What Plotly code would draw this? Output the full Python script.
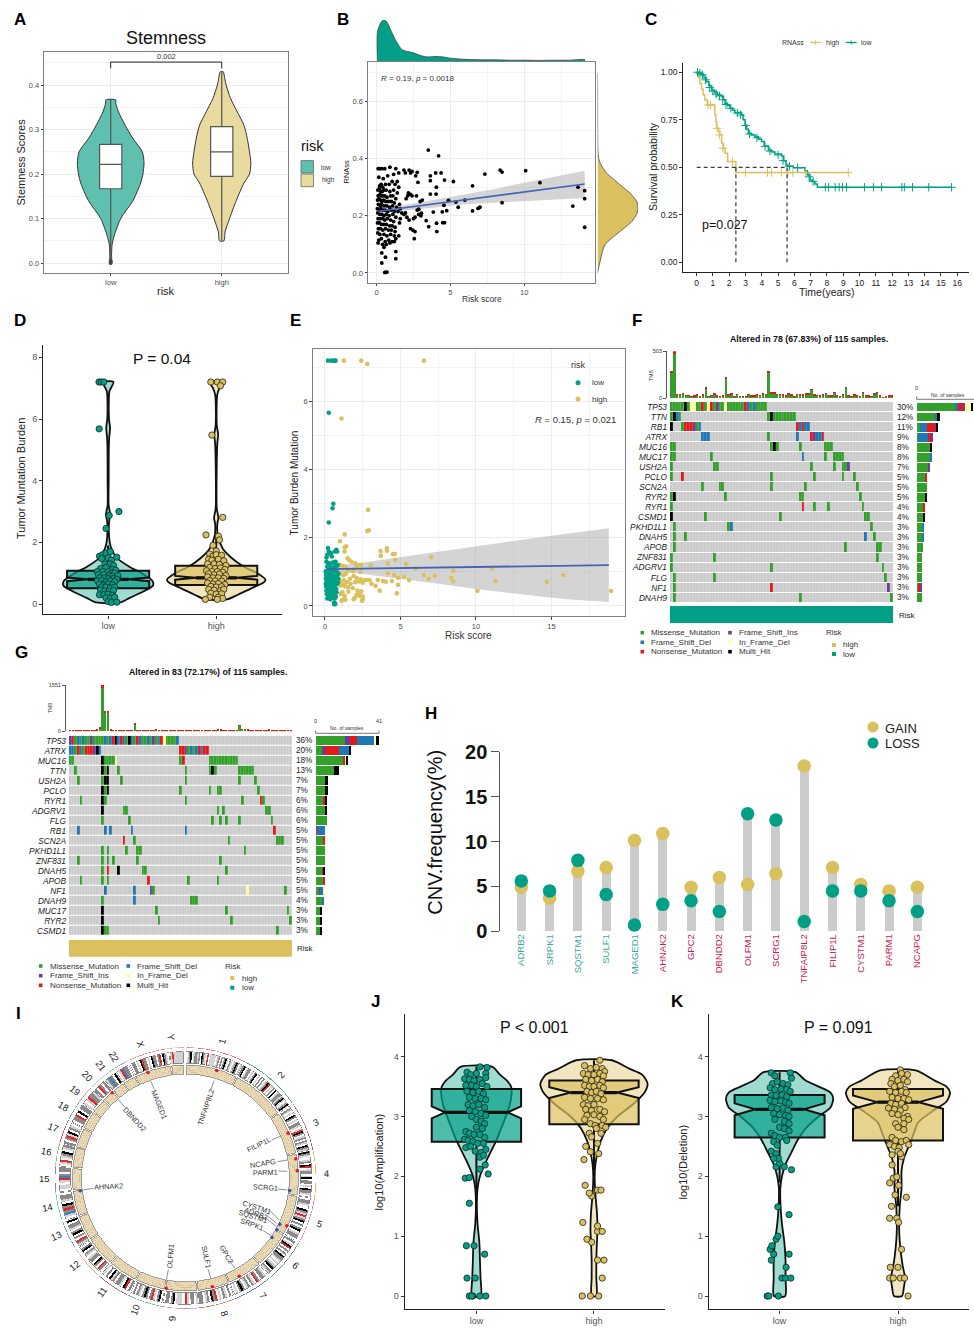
import math
import plotly.graph_objects as go

W, H = 974, 1328
FONT = "Liberation Sans"
TEAL, GOLD = "#00A087", "#DBC05E"
TEAL_A, GOLD_A = "rgba(0,160,135,0.38)", "rgba(219,192,94,0.4)"
TEAL_V, GOLD_V = "#60C0AF", "#E9DA9F"

# ---------- Panel A ----------
A_LOW_Y = [0.0, 0.02, 0.04, 0.06, 0.1, 0.14, 0.18, 0.2, 0.225, 0.25, 0.28, 0.31, 0.34, 0.36, 0.367]
A_LOW_W = [0.006, 0.008, 0.012, 0.03, 0.09, 0.2, 0.27, 0.29, 0.3, 0.285, 0.2, 0.13, 0.07, 0.045, 0.045]
A_HIGH_Y = [0.05, 0.07, 0.1, 0.14, 0.18, 0.2, 0.225, 0.25, 0.28, 0.31, 0.34, 0.37, 0.4, 0.425, 0.43]
A_HIGH_W = [0.02, 0.03, 0.07, 0.13, 0.2, 0.25, 0.262, 0.25, 0.23, 0.2, 0.14, 0.08, 0.04, 0.02, 0.015]
A_BOX = {"low": (0.0, 0.167, 0.222, 0.267, 0.367), "high": (0.05, 0.195, 0.25, 0.307, 0.43)}
A_OUTLIER_X = [1, 1]
A_OUTLIER_Y = [0.0, 0.004]

# ---------- Panel B ----------
B_SPARSE = [(3.5,.43),(4.2,.41),(4.0,.35),(4.37,.35),(3.64,.34),(3.64,.323),(4.6,.325),(5.2,.32),(2.75,.352),(2.8,.317),(3.64,.276),(4.03,.276),(7.34,.346),(8.37,.36),(8.5,.353),(10.1,.358),(6.5,.305),(11.07,.316),(13.65,.3),(14.1,.288),(14.1,.26),(8.5,.246),(5.98,.255),(5.37,.248),(4.87,.254),(4.56,.237),(5.53,.23),(4.75,.218),(4.45,.214),(3.84,.213),(7,.23),(6.87,.226),(6.5,.217),(13.3,.234),(14.1,.16),(4.06,.174),(4.48,.176),(4.6,.176),(4.08,.145),(3.36,.183),(3.53,.162),(3.03,.209),(2.86,.223),(4.05,.3),(3.1,.255),(2.95,.25),(2.7,.27),(2.2,.36),(2.4,.355),(2.3,.35),(2.65,.34),(1.85,.36),(1.95,.35),(2.15,.28),(2.3,.275),(2.4,.27),(2.1,.27),(2.0,.26),(1.95,.21),(2.05,.195),(2.2,.185),(2.5,.19),(2.6,.195),(2.3,.155),(2.45,.15),(2.6,.145),(2.55,.12),(2.75,.22),(2.85,.205),(3.0,.2)]
B_CLUSTER = [(.1,.365),(.2,.365),(.35,.365),(.55,.365),(.9,.37),(1.3,.365),(1.5,.35),(.15,.335),(.45,.33),(.75,.34),(1.15,.345),(1.4,.32),(.2,.305),(.3,.31),(.42,.3),(.6,.31),(.85,.31),(1.05,.32),(1.25,.31),(1.5,.3),(.08,.29),(.18,.295),(.28,.285),(.38,.285),(.5,.29),(.65,.29),(.9,.285),(1.15,.29),(1.4,.28),(.1,.27),(.22,.275),(.32,.27),(.42,.27),(.55,.27),(.7,.265),(.95,.27),(1.1,.27),(1.3,.26),(.06,.255),(.16,.26),(.26,.255),(.36,.25),(.48,.255),(.62,.25),(.8,.25),(1.0,.25),(1.2,.245),(1.55,.24),(.12,.24),(.24,.235),(.34,.24),(.5,.235),(.68,.235),(.88,.23),(1.08,.235),(1.35,.23),(1.6,.225),(.05,.225),(.18,.22),(.3,.225),(.42,.22),(.58,.22),(.75,.215),(.98,.22),(1.2,.215),(1.45,.215),(1.7,.21),(.08,.21),(.22,.205),(.36,.205),(.5,.2),(.65,.205),(.85,.2),(1.1,.205),(1.3,.195),(1.6,.19),(1.85,.205),(.1,.19),(.25,.19),(.4,.19),(.55,.185),(.72,.19),(.95,.185),(1.15,.18),(1.55,.175),(.06,.175),(.2,.175),(.32,.17),(.48,.17),(.66,.17),(.88,.165),(1.05,.165),(1.25,.16),(.12,.155),(.26,.155),(.42,.15),(.6,.155),(.8,.15),(1.0,.15),(1.25,.145),(.08,.14),(.22,.135),(.5,.135),(.7,.13),(.95,.135),(1.2,.13),(1.5,.13),(.15,.115),(.32,.12),(.58,.11),(.82,.115),(1.05,.11),(1.3,.12),(.1,.105),(.4,.1),(.65,.1),(.9,.105),(1.2,.11),(.5,.09),(1.3,.075),(.35,.07),(.6,.055),(1.3,.05),(.35,.035),(.55,.002),(.7,.003),(.62,.002)]
B_TREND_X = [0.1, 1, 2, 3, 4, 6, 8, 10, 12, 14.1]
B_TREND_Y = [0.216, 0.222, 0.229, 0.236, 0.243, 0.257, 0.27, 0.284, 0.297, 0.311]
B_LO = [0.205, 0.212, 0.219, 0.225, 0.23, 0.24, 0.246, 0.252, 0.257, 0.262]
B_HI = [0.227, 0.232, 0.239, 0.247, 0.256, 0.274, 0.294, 0.316, 0.337, 0.358]
B_TOP_X = [0.05,0.05,0.3,0.5,0.7,1,1.3,1.7,2,2.5,3,3.5,4,4.5,5,6,7,8,9,10,11,12,13,14.1,14.1]
B_TOP_D = [0,0.7,0.95,1,0.95,0.72,0.5,0.28,0.24,0.2,0.13,0.1,0.11,0.1,0.07,0.04,0.03,0.03,0.02,0.02,0.015,0.02,0.02,0.035,0]
B_RIGHT_Y = [0,0.02,0.05,0.08,0.1,0.13,0.15,0.18,0.21,0.23,0.25,0.28,0.3,0.33,0.35,0.38,0.4,0.43,0.5,0.7]
B_RIGHT_D = [0,0.03,0.08,0.13,0.19,0.42,0.6,0.85,0.98,1,0.97,0.8,0.63,0.38,0.22,0.08,0.03,0.01,0.005,0]

# ---------- Panel C ----------
C_HIGH_T = [0,0.1,0.2,0.3,0.4,0.5,0.65,1.02,1.12,1.18,1.23,1.35,1.43,1.53,1.65,1.74,1.9,2.41,9.31]
C_HIGH_S = [1,0.97,0.94,0.91,0.88,0.854,0.828,0.828,0.775,0.74,0.705,0.69,0.67,0.626,0.6,0.574,0.53,0.472,0.472]
C_LOW_T = [0,0.15,0.3,0.45,0.61,0.75,0.92,1.1,1.27,1.53,1.65,1.74,1.9,2.05,2.2,2.35,2.76,2.85,2.97,3.07,3.17,3.35,3.58,3.8,3.99,4.15,4.4,4.6,4.81,5.22,5.35,5.48,5.6,5.93,6.3,6.65,6.8,6.96,7.1,7.26,7.41,15.65]
C_LOW_S = [1,0.995,0.986,0.97,0.95,0.93,0.907,0.893,0.88,0.872,0.855,0.837,0.823,0.81,0.8,0.788,0.775,0.75,0.723,0.7,0.679,0.67,0.66,0.648,0.635,0.612,0.591,0.58,0.57,0.56,0.535,0.512,0.505,0.498,0.498,0.482,0.46,0.433,0.425,0.412,0.395,0.395]
C_HIGH_CENS_T = [0.7,0.85,1.25,1.4,1.6,2.2,3.0,4.35,4.6,5.2,5.6,5.9,6.7,9.31]
C_HIGH_CENS_S = [0.828,0.828,0.705,0.67,0.6,0.53,0.472,0.472,0.472,0.472,0.472,0.472,0.472,0.472]
C_LOW_CENS_T = [0.05,0.2,0.35,0.55,0.8,1.0,1.2,1.4,1.6,1.8,2.1,2.5,2.7,3.0,3.25,3.7,4.2,4.5,5.0,5.3,5.7,6.2,6.9,7.15,7.9,8.1,8.5,8.75,8.95,9.2,10.3,10.85,11.35,12.6,12.75,13.25,14.25,15.65]
C_LOW_CENS_S = [1,0.995,0.986,0.96,0.92,0.9,0.885,0.875,0.855,0.83,0.81,0.785,0.775,0.72,0.675,0.655,0.61,0.585,0.565,0.535,0.505,0.498,0.45,0.425,0.395,0.395,0.395,0.395,0.395,0.395,0.395,0.395,0.395,0.395,0.395,0.395,0.395,0.395]

# ---------- Panel D ----------
D_LOW_Y = [0.05,0.2,0.4,0.6,0.75,1.0,1.2,1.5,1.8,2,2.4,2.7,2.9,3.2,4,5,5.4,5.7,6,6.5,6.9,7.2]
D_LOW_W = [0.113,0.2,0.32,0.415,0.41,0.31,0.2,0.08,0.03,0.015,0.006,0.01,0.02,0.005,0.005,0.006,0.01,0.018,0.008,0.006,0.012,0.05]
D_HIGH_Y = [0.15,0.3,0.5,0.7,0.8,1.0,1.2,1.5,1.8,2.2,2.6,2.8,3.1,4.5,5.2,5.5,5.8,6.8,7.0,7.2]
D_HIGH_W = [0.1,0.2,0.32,0.44,0.455,0.38,0.26,0.14,0.06,0.015,0.01,0.02,0.005,0.005,0.01,0.018,0.005,0.01,0.03,0.06]
D_BOX = {"low": (0.05,0.51,0.8,1.08,1.9,0.06,0.25), "high": (0.15,0.62,0.85,1.24,2.2,0.06,0.25)}
D_LOW_PTS = [(.915,7.2),(.935,7.2),(.96,7.2),(.917,5.68),(1.01,2.87),(1.1,3.0),(.98,2.45),(.92,1.55),(.95,1.6),(.98,1.65),(1.02,1.7),(.94,1.47),(1.0,1.5),(1.08,1.52),(1.03,1.42),(.97,1.3),(1.02,1.3),(1.05,1.25),(.93,1.15),(.98,1.18),(1.04,1.12),(1.07,1.1),(.9,1.05),(.95,1.05),(1.0,1.05),(1.03,1.0),(1.06,1.0),(.91,.95),(.96,.95),(1.01,.93),(1.04,.9),(1.09,.92),(.92,.85),(.97,.85),(1.0,.82),(1.05,.83),(1.08,.8),(.9,.75),(.94,.76),(.98,.72),(1.02,.75),(1.06,.72),(.92,.65),(.96,.62),(1.0,.65),(1.04,.62),(.94,.55),(.98,.55),(1.02,.52),(1.06,.55),(.93,.45),(.97,.42),(1.01,.42),(1.05,.44),(.92,.3),(.96,.3),(1.0,.32),(1.04,.28),(.98,.2),(1.02,.18),(1.06,.22),(1.0,.08),(1.03,.05),(1.08,.06)]
D_HIGH_PTS = [(1.95,7.2),(2.01,7.2),(2.06,7.2),(2.04,7.08),(1.96,5.48),(2.06,2.81),(1.905,2.24),(2.02,2.2),(2.03,2.08),(1.97,1.9),(2.0,1.72),(1.94,1.62),(1.97,1.55),(2.0,1.6),(2.05,1.58),(1.93,1.45),(1.96,1.42),(2.02,1.45),(2.07,1.4),(1.92,1.3),(1.98,1.3),(2.03,1.28),(2.09,1.25),(1.94,1.18),(1.99,1.15),(2.04,1.17),(2.08,1.12),(1.91,1.08),(1.96,1.05),(2.01,1.05),(2.06,1.03),(1.93,.98),(1.98,.95),(2.03,.97),(2.09,.92),(1.92,.88),(1.97,.85),(2.02,.85),(2.07,.83),(1.94,.76),(1.99,.75),(2.05,.74),(1.92,.68),(1.97,.65),(2.02,.66),(2.08,.63),(1.95,.57),(2.0,.55),(2.05,.56),(1.93,.47),(1.98,.45),(2.04,.43),(2.07,.48),(1.95,.35),(2.0,.32),(2.05,.33),(1.94,.22),(2.02,.22),(2.06,.18),(1.9,.15),(2.01,.15)]

# ---------- Panel E ----------
E_LOW_X = [.2,.45,.6,.7,.25,.55,.5,.25,.1,.15,.2,.3,.4,.25,.45,.65,.75,.8,.7,.1,.2,.3,.55,.65,.15,.25,.35,.45,.6,.75,.85,.05,.1,.18,.28,.38,.48,.58,.68,.78,.88,.08,.16,.24,.32,.42,.52,.62,.72,.82,.06,.14,.22,.3,.4,.5,.6,.7,.8,.9,.05,.12,.2,.28,.36,.46,.56,.66,.76,.86,.08,.15,.25,.34,.44,.54,.64,.74,.1,.18,.27,.37,.47,.57,.67,.77,.12,.22,.32,.42,.52,.62,.72,.15,.25,.35,.45,.55,.65,.6,.65,.68,.62]
E_LOW_Y = [7.2,7.2,7.2,7.2,5.67,3.0,2.87,2.45,1.42,1.5,1.7,1.55,1.55,1.6,1.45,1.6,1.65,1.6,1.3,1.3,1.25,1.25,1.28,1.22,1.15,1.12,1.18,1.1,1.12,1.15,1.2,1.02,.95,1.0,1.03,.98,1.0,1.05,1.02,1.0,.95,.9,.88,.85,.9,.87,.9,.85,.88,.9,.8,.75,.78,.82,.76,.8,.75,.78,.82,.8,.65,.7,.68,.62,.72,.68,.65,.7,.64,.68,.58,.55,.6,.52,.57,.6,.55,.5,.45,.42,.48,.4,.44,.48,.42,.4,.35,.3,.33,.28,.36,.32,.27,.22,.25,.2,.24,.28,.22,.1,.05,.07,.05]
E_HIGH_X = [1.25,2.4,2.8,6.55,1.1,2.85,2.8,2.9,1.3,1,1.4,1.3,1.3,1.5,1.6,1.75,2.0,2.2,2.4,1.0,1.15,1.35,1.55,1.85,2.05,2.35,7.03,11.05,8.5,6,5.38,6.54,7.27,6.86,8.35,8.49,11.3,15.78,14.7,10.1,18.95,4.76,4.84,5.57,5.24,4.57,4.16,4.84,4.1,4.1,3.68,3.7,4.5,4.62,4.65,4.16,3.03,4.43,4.03,3.84,3.5,3.62,3.35,2.95,2.73,3.08,1.0,1.2,1.4,1.65,1.9,2.1,2.35,2.55,1.05,1.25,1.45,1.7,2.0,2.25,2.5,1.0,1.2,1.35,1.55,1.85,2.15,2.4,1.05,1.15,1.3,1.55,1.9,2.3,2.5,2.45,2.5,1.15,1.3,1.1,1.35,2.0,2.3,2.1]
E_HIGH_Y = [7.2,7.2,7.1,7.2,5.5,2.82,2.2,2.22,2.1,1.9,1.75,1.6,1.72,1.4,1.35,1.3,1.25,1.2,1.2,1.2,1.18,1.15,1.05,1.02,1.1,1.0,1.43,1.1,1.03,1.1,1.23,.91,.89,.8,.83,.73,.73,.91,.71,.44,.44,.37,.62,.76,.86,.91,.96,.83,1.69,1.62,1.61,1.47,1.52,1.53,1.35,1.25,1.2,.73,.71,.73,.76,.45,.59,.76,.76,.65,.95,.9,.95,.8,.88,.82,.78,.75,.72,.75,.7,.65,.7,.72,.68,.6,.62,.58,.55,.52,.45,.43,.35,.4,.3,.42,.2,.3,.28,.15,.2,.17,.22,.15,.18,.25,.38,.33]
E_TREND_X = [0.1,2,4,6,8,10,12,14,16,18.8]
E_TREND_Y = [1.08,1.09,1.11,1.12,1.13,1.14,1.15,1.16,1.18,1.2]
E_LO = [.97,.97,.87,.74,.62,.5,.39,.29,.2,.12]
E_HI = [1.19,1.24,1.37,1.5,1.63,1.75,1.87,2.0,2.12,2.28]

# ---------- Panels F, G (oncoplots) ----------
MUT_NAMES = {"M": "Missense_Mutation", "F": "Frame_Shift_Del", "N": "Nonsense_Mutation", "I": "Frame_Shift_Ins", "D": "In_Frame_Del", "H": "Multi_Hit"}
MUT_COLORS = {".": "#CCCCCC", "M": "#33A02C", "F": "#1F78B4", "N": "#E31A1C", "I": "#6A3D9A", "D": "#FFFF99", "H": "#000000"}
MUT_CODE = ".MFNIDH"
F_GENES = ["TP53","TTN","RB1","ATRX","MUC16","MUC17","USH2A","PCLO","SCN2A","RYR2","RYR1","CSMD1","PKHD1L1","DNAH5","APOB","ZNF831","ADGRV1","FLG","NF1","DNAH9"]
F_PCT = ["30%","12%","11%","9%","8%","8%","7%","5%","5%","5%","4%","4%","3%","3%","3%","3%","3%","3%","3%","3%"]
F_RUNS = ["M5 H1 M1 D2 M2 N1 M1 D1 N1 M1 I1 M2 D1 M6 N1 F1 M1 F1 M4",
"M1 H1 F1 M1 .30 M1 H1 M8","H1 .3 M1 N3 I1 M1 F1 .33 N1 F1 N1 F2",".11 F3 .20 M1 .9 F1 .4 N1 I1 F2 N1",
"M2 .33 M1 H1 M1 .7 M1 .8 M3","M2 .12 M1 .31 F1 .7 M1 .2 M4","M1 .14 M2 .32 M1 .7 M1 .2 M2 I1","M1 .3 N1 .30 M1 .14 M1 .9 M1 .3 M1",
".11 M1 .5 M2 .16 M1 .11 M1 .17 M1","M1 H1 .17 M1 .25 M2 .19 M1","M1 .45 N1 .3 M1 .4 M1 .11 M1","H1 .11 M1 .25 M1 .29 M2",
".1 M1 .18 M1 F1 .48 M1",".1 M1 .3 M1 .62 F1 .2 M1",".1 M1 .59 M1 .10 M2","M1 .14 M1 .56 M1","M1 .34 M1 .38 M1",".1 M1 .13 M1 .59 M1",".1 M1 .33 N1 .40 I1",".1 M1 .43 M1 .31 M1"]
F_ORDER = "MFNIDH"
F_TMB_G = [272,478,28,32,42,22,22,13,18,27,13,27,102,9,23,37,18,13,18,205,27,37,13,32,9,9,13,32,18,18,27,23,37,32,272,50,50,32,32,27,18,37,27,13,32,27,27,37,37,85,27,23,18,27,46,23,18,56,18,13,27,108,18,13,27,18,13,56,18,18,13,37,56,18,5,13,18,18]
F_TMB_R = [18,25,3,4,4,3,3,2,3,3,2,3,8,2,3,4,3,2,3,10,3,4,2,3,2,2,2,3,3,2,3,2,3,3,18,5,4,3,3,3,2,3,3,2,3,3,3,3,3,5,3,2,2,3,4,2,2,4,2,2,3,7,2,2,3,2,2,4,2,2,2,3,4,2,1,2,2,2]
G_GENES = ["TP53","ATRX","MUC16","TTN","USH2A","PCLO","RYR1","ADGRV1","FLG","RB1","SCN2A","PKHD1L1","ZNF831","DNAH5","APOB","NF1","DNAH9","MUC17","RYR2","CSMD1"]
G_PCT = ["36%","20%","18%","13%","7%","7%","6%","6%","6%","5%","5%","5%","5%","5%","5%","5%","4%","3%","3%","3%"]
G_RUNS = ["I1 N1 M1 F1 M1 F1 M2 I1 M4 F1 M1 F1 N1 H1 F1 N1 F1 M1 H1 F1 M1 N1 F1 M2 F1 M1 I1 M1 F1 N1 D1 M4 F1",
"F2 M1 N1 F1 M1 N3 I1 H1 F1 .29 N2 I1 M1 F1 M1 F1 N1 F1 N2","M2 .10 H1 M4 D1 .23 M1 N1 .9 M11",".2 M1 .9 H1 M1 H1 .3 M1 .24 M1 .8 M1 H1 M1 .8 M6",
".3 M1 .8 M1 H2 .4 M1 .23 M1 .19 M1 .5 M1",".12 H1 M1 H1 .26 M1 .10 M1 .2 M2 .13 M1",".4 M1 .7 H1 M1 .29 M1 .20 M1 .6 N1 M1",".12 H1 .7 M2 .33 M1 .1 M1 .15 M2",
".12 M1 .9 M1 .30 M1 .2 M1 .1 M1 .4 M1 .11 M1",".3 F1 .9 F1 .1 F1 .7 F1 .19 F1 .32 N1",".20 N1 .3 M1 .34 M1 .17 M3",".12 M1 .1 M1 .6 M1 .3 M2 .38 M1",
".3 M1 .8 M1 .1 M1 .1 M1 .8 M1 .30 M1",".12 M1 .1 N1 .3 H1 .8 M2 .29 M1",".4 M1 .7 M1 .1 M1 .14 N1 .14 M1 .10 M1",".13 F1 .10 F1 .5 I1 M1 .34 D1 .13 M1",
".12 M1 .11 F1 .20 M3",".12 H1 .19 M1 .25 M1 .22 M1",".12 H1 .20 M1 .26 M1 .21 M1",".12 H1 M2 .62 M1"]
G_ORDER = "MINFDH"
G_TMB_G = [30,15,25,15,10,30,15,20,35,10,40,110,1440,620,620,40,35,30,20,30,25,35,15,20,240,25,15,30,20,15,25,15,60,25,10,20,15,20,10,20,25,15,20,25,20,30,25,15,10,15,20,15,20,25,20,70,40,15,30,15,30,10,15,190,70,50,40,30,25,20,30,35,15,20,40,25,20,15,10,15,10,15,20]
G_TMB_R = [5,3,5,2,2,5,2,3,5,2,6,12,111,30,30,5,5,4,3,4,4,5,2,3,20,3,2,4,3,2,4,2,6,3,2,3,2,3,2,3,3,2,3,3,3,4,3,2,2,2,3,2,3,3,3,7,5,2,4,2,4,2,2,12,7,5,4,4,3,3,4,5,2,3,5,3,3,2,2,2,2,2,3]

# ---------- Panel H ----------
H_GENES = ["ADRB2","SRPK1","SQSTM1","SULF1","MAGED1","AHNAK2","GPC2","DBNDD2","OLFM1","SCRG1","TNFAIP8L2","FILIP1L","CYSTM1","PARM1","NCAPG"]
H_GAIN = [4.9,3.7,6.7,7.1,10.1,10.9,4.9,6.0,5.2,6.4,18.4,7.1,5.2,4.5,4.9]
H_LOSS = [5.6,4.5,7.9,4.1,0.7,3.0,3.4,2.2,13.1,12.4,1.1,4.5,4.5,3.4,2.2]
H_TOP = [5.6,4.5,7.9,7.1,10.1,10.9,4.9,6.0,13.1,12.4,18.4,7.1,5.2,4.5,4.9]

# ---------- Panel I (circos) ----------
CHROMS = ["1","2","3","4","5","6","7","8","9","10","11","12","13","14","15","16","17","18","19","20","21","22","X","Y"]
CHROM_EDGES = [0.3,27.2,55.3,77.8,99.3,120.3,139.7,157.7,174.3,190.8,206.3,221.8,237.4,250.6,263.9,275.5,286,296.5,306,314,320.5,327,334,353,359.7]
CHROM_ARC_COLORS = ["#E26A6A","#3F9A6B","#A84F72","#F2B24E","#D276B6","#4C9460","#5B70C4","#B9775C","#E284B2","#55B585","#B25252","#F09464","#5C92D2","#62CBB4","#A474C4","#84B464","#B25252","#34A294","#E28472","#84D2E2","#84CAA4","#9474C4","#E28484","#E29494"]
CHROM_BANDS = ["wlgkwlgglgwkglwrwllllwlgwgwgklwglwlgkgwl","gkwlggwlwgkwlwgwgwlgkrwlwgwkwlgglgklwlgk","wglwlwkgwlwgglwlrkgwlgwglwkgl","kglwwlgwkrwlggwlkwggwlwkgglw","wgglwwkglrlgkwgwgkwlggw","gwlkrwgwgwkgglwlwlgkwgl","wlggwgrwlgwglwgkgwlw",
"wgwlgwlwrgkwglwgg","lwggwlrwwlllwkgwggw","wkgwlrgwgkgwlgwgw","gwrkwlggwglkwgwl","wgrwgkwgglwlgwkgw","lgrwgwkgwlggwk","wlbgrgkwlggw","wllwlrbgwgg","wlrwlgkwlg","gwgrlkwglw","wggrwkwgg","lwlrggl","gwrgwg","lgbgwk","wlrbggw","wggwlwkrggwlwkggwgrwkglw","lrllllll"]
CIRC_GENES = ["TNFAIP8L2","MAGED1","DBNDD2","FILIP1L","NCAPG","PARM1","SCRG1","AHNAK2","CYSTM1","SQSTM1","ADRB2","SRPK1","GPC2","SULF1","OLFM1"]
CIRC_THETA = [16.2,340.4,319.3,66.4,80.1,86.3,96.9,263.1,116.2,115.3,119.6,124.5,151.3,166.1,189.9]
CIRC_R = [112,112,112.5,112,112,112,105,106,105,112,105,105,112,112,112]
CIRC_COL = ["#E31A1C","#E31A1C","#E31A1C","#E31A1C","#E31A1C","#E31A1C","#3A56B0","#3A56B0","#3A56B0","#E31A1C","#3A56B0","#3A56B0","#E31A1C","#E31A1C","#E31A1C"]

# ---------- Panels J, K ----------
J_LOW_Y = [0,.3,.6,.9,1.2,1.5,1.8,2.0,2.2,2.4,2.6,2.8,3.0,3.2,3.4,3.5,3.6,3.7,3.83]
J_LOW_W = [.037,.035,.03,.025,.01,.004,.01,.03,.07,.12,.17,.21,.25,.285,.30,.295,.26,.2,.136]
J_HIGH_Y = [0,.3,.6,.9,1.1,1.4,1.7,2.0,2.2,2.4,2.6,2.8,3.0,3.2,3.4,3.55,3.7,3.8,3.94]
J_HIGH_W = [.02,.02,.02,.025,.03,.025,.012,.006,.012,.03,.06,.11,.2,.33,.43,.456,.41,.3,.153]
J_BOX = {"low": (1.6,2.58,3.07,3.46,3.83,.1,.15), "high": (1.9,2.87,3.4,3.6,3.94,.09,.24)}
J_LOW_PTS = [(.905,1.97),(.94,1.98),(1.1,2.04),(1.03,2.12),(1.075,2.19),(.94,1.55),(.915,.84),(.98,.84),(1.07,.7),(.92,.3),(.99,.3),(.94,0),(.97,0),(1.03,0),(1.08,0),(.96,0),(1.03,3.83),(1.09,3.82),(.92,3.74),(.95,3.7),(1.0,3.72),(1.08,3.72),(.9,3.63),(.94,3.62),(.98,3.6),(1.03,3.62),(1.08,3.65),(.91,3.52),(.96,3.52),(1.0,3.5),(1.05,3.55),(1.09,3.5),(.92,3.42),(.97,3.4),(1.02,3.42),(1.06,3.38),(.94,3.32),(.99,3.3),(1.04,3.3),(1.08,3.28),(.93,3.2),(.97,3.18),(1.02,3.2),(1.07,3.15),(.94,3.1),(.99,3.08),(1.04,3.05),(1.08,3.02),(.96,3.0),(1.0,2.95),(1.04,2.92),(1.07,2.88),(1.0,2.82),(1.05,2.8),(.91,2.75),(.94,2.72),(.98,2.7),(1.03,2.7),(1.07,2.65),(.9,2.62),(.93,2.6),(.97,2.58),(1.01,2.55),(1.06,2.55),(.91,2.48),(.95,2.5),(.99,2.42),(1.04,2.4),(1.08,2.45),(1.03,2.32),(1.06,2.35)]
J_HIGH_PTS = [(1.9,0),(1.97,0),(2.04,0),(2.07,.3),(2.03,.6),(2.085,.6),(1.98,.9),(1.94,.95),(2.03,1.08),(2.07,1.08),(2.03,1.17),(1.905,1.23),(1.98,1.67),(1.96,1.72),(2.03,1.77),(2.06,1.77),(1.925,1.85),(1.915,2.28),(2.04,2.38),(1.97,2.41),(1.93,2.5),(2.03,2.55),(2.05,3.94),(1.92,3.85),(1.97,3.8),(2.02,3.82),(2.07,3.8),(2.09,3.75),(1.91,3.72),(1.95,3.7),(2.0,3.7),(2.05,3.72),(2.08,3.68),(1.93,3.62),(1.98,3.6),(2.03,3.62),(2.07,3.58),(1.92,3.52),(1.96,3.5),(2.0,3.5),(2.05,3.52),(2.08,3.48),(1.94,3.42),(1.98,3.4),(2.02,3.42),(2.06,3.38),(1.92,3.32),(1.97,3.3),(2.03,3.3),(2.08,3.28),(1.91,3.2),(1.95,3.18),(2.0,3.2),(1.93,3.12),(1.98,3.1),(2.05,3.12),(2.09,3.08),(1.94,3.02),(2.0,3.03),(2.05,3.0),(2.08,2.95),(1.92,2.95),(1.97,2.88),(2.01,2.85),(2.07,2.85),(2.1,2.82),(2.02,2.8),(2.06,2.72),(1.96,2.72),(1.98,2.66)]
K_LOW_Y = [0,.3,.6,.9,1.2,1.5,1.8,2.0,2.2,2.4,2.6,2.8,3.0,3.15,3.3,3.4,3.5,3.6,3.74]
K_LOW_W = [.047,.05,.05,.04,.02,.008,.006,.02,.05,.1,.15,.22,.33,.43,.453,.43,.33,.22,.135]
K_HIGH_Y = [0,.15,.3,.5,.8,1.1,1.5,1.8,2.1,2.3,2.5,2.7,2.9,3.1,3.25,3.4,3.5,3.6,3.77]
K_HIGH_W = [.034,.05,.06,.04,.02,.01,.015,.03,.03,.05,.09,.13,.17,.3,.41,.44,.41,.31,.15]
K_BOX = {"low": (1.9,2.65,3.12,3.36,3.74,.1,.23), "high": (1.5,2.6,3.24,3.46,3.77,.11,.27)}
K_LOW_PTS = [(.895,0),(.91,0),(.99,0),(1.02,.3),(1.05,.3),(1.095,.3),(1.055,.48),(.93,.6),(.95,.7),(1.08,.7),(.92,.78),(.935,.84),(.97,.95),(.985,1.0),(1.08,1.36),(.985,1.49),(1.1,2.11),(1.04,2.16),(.97,2.16),(1.0,2.22),(.93,3.73),(.96,3.68),(1.09,3.73),(1.1,3.64),(.94,3.55),(.98,3.58),(1.03,3.55),(1.07,3.53),(.92,3.48),(.96,3.45),(1.01,3.46),(1.06,3.45),(1.09,3.42),(.93,3.36),(.97,3.35),(1.02,3.36),(1.06,3.33),(.92,3.27),(.96,3.25),(1.01,3.26),(1.05,3.24),(1.08,3.22),(.93,3.15),(.98,3.13),(1.03,3.14),(1.07,3.1),(.95,3.05),(1.0,3.03),(1.05,3.02),(1.08,3.0),(.96,2.95),(1.04,2.92),(1.08,2.88),(1.0,2.82),(1.04,2.8),(1.08,2.76),(.93,2.72),(.96,2.68),(1.0,2.65),(1.05,2.65),(.95,2.58),(.98,2.52),(1.06,2.6),(.93,2.42),(.97,2.38),(.99,2.3),(.95,2.3)]
K_HIGH_PTS = [(2.085,0),(1.93,.3),(1.96,.3),(2.02,.3),(2.055,.3),(1.935,.48),(2.0,.48),(2.03,.78),(1.93,1.3),(1.99,1.3),(2.005,1.23),(1.945,1.5),(2.07,1.65),(1.975,1.69),(1.93,1.89),(2.005,1.85),(1.96,1.97),(1.99,1.99),(1.95,2.19),(1.95,2.36),(2.03,2.33),(2.02,3.78),(2.03,3.72),(2.08,3.7),(1.98,3.68),(1.95,3.62),(2.0,3.6),(2.05,3.62),(2.08,3.58),(1.94,3.55),(1.97,3.5),(2.02,3.52),(2.06,3.45),(1.93,3.42),(1.98,3.4),(2.03,3.42),(2.07,3.4),(1.95,3.32),(2.0,3.3),(2.05,3.3),(2.09,3.28),(1.94,3.22),(1.98,3.2),(2.03,3.22),(2.06,3.15),(1.92,3.14),(1.97,3.12),(2.02,3.1),(1.95,3.05),(2.0,3.03),(2.08,3.0),(2.05,2.97),(2.09,2.95),(1.98,2.88),(2.05,2.88),(2.0,2.82),(2.05,2.78),(1.95,2.65),(1.98,2.6),(2.03,2.58),(2.07,2.6),(1.93,2.53),(1.97,2.5),(2.01,2.48),(2.09,2.53),(2.0,2.42),(2.02,2.38)]

# ---------- helpers ----------
fig = go.Figure()
layout = {}
n_axes = [0]

def new_axes(box, xr, yr, xa=None, ya=None):
    x0, y0, x1, y1 = box
    n_axes[0] += 1
    n = n_axes[0]
    xn, yn = ("xaxis", "yaxis") if n == 1 else (f"xaxis{n}", f"yaxis{n}")
    xid, yid = ("x", "y") if n == 1 else (f"x{n}", f"y{n}")
    base = dict(showgrid=False, zeroline=False, showline=False, ticks="", showticklabels=False)
    xd = dict(base); xd.update(domain=[x0 / W, x1 / W], range=xr, anchor=yid)
    yd = dict(base); yd.update(domain=[1 - y1 / H, 1 - y0 / H], range=yr, anchor=xid)
    xd.update(xa or {}); yd.update(ya or {})
    layout[xn] = xd; layout[yn] = yd
    return xid, yid

annotations, shapes = [], []

def note(x, y, text, size=8, color="#222", anchor="center", angle=0, bold=False, vanchor="middle", bg=None):
    if bold:
        text = f"<b>{text}</b>"
    a = dict(x=x / W, y=1 - y / H, xref="paper", yref="paper", text=text, showarrow=False,
             font=dict(size=size, color=color, family=FONT), xanchor=anchor, yanchor=vanchor, textangle=angle)
    if bg:
        a["bgcolor"] = bg
    annotations.append(a)

def rect(x0, y0, x1, y1, fill, line=None, lw=0.8):
    shapes.append(dict(type="rect", xref="paper", yref="paper", x0=x0 / W, x1=x1 / W, y0=1 - y0 / H, y1=1 - y1 / H,
                       fillcolor=fill, line=dict(color=line or fill, width=lw if line else 0)))

def seg(x0, y0, x1, y1, color="#222", lw=0.7, dash="solid"):
    shapes.append(dict(type="line", xref="paper", yref="paper", x0=x0 / W, x1=x1 / W, y0=1 - y0 / H, y1=1 - y1 / H,
                       line=dict(color=color, width=lw, dash=dash)))

def dot(x, y, d, fill):
    shapes.append(dict(type="circle", xref="paper", yref="paper", x0=(x - d / 2) / W, x1=(x + d / 2) / W,
                       y0=1 - (y + d / 2) / H, y1=1 - (y - d / 2) / H, fillcolor=fill, line=dict(width=0)))

def violin(axs, center, ys, ws, fill, lw=1, lc="#333"):
    xs = [center - w for w in ws] + [center + w for w in reversed(ws)]
    yy = list(ys) + list(reversed(ys))
    xs.append(xs[0]); yy.append(yy[0])
    fig.add_trace(go.Scatter(x=xs, y=yy, xaxis=axs[0], yaxis=axs[1], mode="lines", fill="toself", fillcolor=fill,
                             line=dict(color=lc, width=lw, shape="spline", smoothing=0.7), hoverinfo="skip"))

def box(axs, center, vals, fill, width, lw=2, lc="#111", notched=True):
    lo, q1, med, q3, hi, ns, nw = vals
    fig.add_trace(go.Box(x=[center], q1=[q1], median=[med], q3=[q3], lowerfence=[lo], upperfence=[hi], notchspan=[ns],
                         notched=notched, notchwidth=nw, width=width, fillcolor=fill, whiskerwidth=0,
                         line=dict(color=lc, width=lw), xaxis=axs[0], yaxis=axs[1], boxpoints=False, hoverinfo="skip"))
    if notched:
        hw = width / 2 * (1 - 2 * nw)
        fig.add_trace(go.Scatter(x=[center - hw, center + hw], y=[med, med], xaxis=axs[0], yaxis=axs[1], mode="lines",
                                 line=dict(color=lc, width=3.2), hoverinfo="skip"))

def jitter(axs, pts, color, size=6.3):
    xs, ys = zip(*pts)
    fig.add_trace(go.Scatter(x=list(xs), y=list(ys), xaxis=axs[0], yaxis=axs[1], mode="markers",
                             marker=dict(size=size, color=color, line=dict(color="#222", width=0.8)), hoverinfo="skip"))

GT = dict(ticks="outside", ticklen=2.5, tickwidth=0.7, tickcolor="#444", showticklabels=True, tickfont=dict(size=7.5, color="#4d4d4d", family=FONT))
BW = dict(showline=True, mirror=True, linecolor="#7f7f7f", linewidth=1, showgrid=True, gridcolor="#ececec", gridwidth=1)
CL = dict(ticks="outside", ticklen=3, tickwidth=1, tickcolor="#333", showticklabels=True, showline=True, linecolor="#222", linewidth=1.4,
          tickfont=dict(size=9, color="#555", family=FONT))

# ---------- A ----------
A_RECT = (44.3, 52.3, 287.7, 272.7); A_XR = [0.402, 2.594]; A_YR = [-0.0218, 0.474]
a = new_axes(A_RECT, A_XR, A_YR,
             dict(**GT, **BW, tickvals=[1, 2], ticktext=["low", "high"]),
             dict(**GT, **BW, tickvals=[0, .1, .2, .3, .4], ticktext=["0.0", "0.1", "0.2", "0.3", "0.4"],
                  minor=dict(dtick=0.05, showgrid=True, gridcolor="#f3f3f3")))
violin(a, 1, A_LOW_Y, A_LOW_W, TEAL_V)
violin(a, 2, A_HIGH_Y, A_HIGH_W, GOLD_V)
a2 = new_axes(A_RECT, A_XR, A_YR)
for c_, k_ in [(1, "low"), (2, "high")]:
    lo, q1, m, q3, hi = A_BOX[k_]
    box(a2, c_, (lo, q1, m, q3, hi, 0.01, 0.2), "white", 0.2, lw=1.2, lc="#555", notched=False)
fig.add_trace(go.Scatter(x=A_OUTLIER_X, y=A_OUTLIER_Y, xaxis=a2[0], yaxis=a2[1], mode="markers", marker=dict(size=4, color="#444"), hoverinfo="skip"))
fig.add_trace(go.Scatter(x=[1, 1, 2, 2], y=[.438, .452, .452, .438], xaxis=a2[0], yaxis=a2[1], mode="lines", line=dict(color="#222", width=1), hoverinfo="skip"))
note(166, 57, "0.002", 7.5, "#333")
note(166, 38, "Stemness", 18, "#111")
note(20.5, 162, "Stemness Scores", 11, "#222", angle=-90)
note(166, 291, "risk", 11, "#222")
note(312, 146, "risk", 14.5, "#111")
rect(301, 160.6, 313.5, 173, TEAL_V, "#666")
rect(301, 174, 313.5, 186.7, GOLD_V, "#666")
note(326, 167, "low", 6.5, "#333")
note(328, 180, "high", 6.5, "#333")

# ---------- B ----------
bx = [-0.585, 14.8]
b = new_axes((368, 62.3, 595, 282.7), bx, [-0.034, 0.737],
             dict(**GT, **BW, tickvals=[0, 5, 10], minor=dict(dtick=2.5, showgrid=True, gridcolor="#f3f3f3")),
             dict(**GT, **BW, tickvals=[0, .2, .4, .6], ticktext=["0.0", "0.2", "0.4", "0.6"], minor=dict(dtick=0.1, showgrid=True, gridcolor="#f3f3f3")))
fig.add_trace(go.Scatter(x=B_TREND_X + B_TREND_X[::-1], y=B_HI + B_LO[::-1], xaxis=b[0], yaxis=b[1], mode="lines", fill="toself",
                         fillcolor="rgba(153,153,153,0.42)", line=dict(width=0), hoverinfo="skip"))
bp = B_SPARSE + B_CLUSTER
fig.add_trace(go.Scatter(x=[p[0] for p in bp], y=[p[1] for p in bp], xaxis=b[0], yaxis=b[1], mode="markers", marker=dict(size=3.8, color="#000"), hoverinfo="skip"))
fig.add_trace(go.Scatter(x=B_TREND_X, y=B_TREND_Y, xaxis=b[0], yaxis=b[1], mode="lines", line=dict(color="#4263B8", width=1.6), hoverinfo="skip"))
bt = new_axes((368, 20, 595, 61), bx, [0, 1])
fig.add_trace(go.Scatter(x=B_TOP_X, y=B_TOP_D, xaxis=bt[0], yaxis=bt[1], mode="lines", fill="toself", fillcolor=TEAL, line=dict(color="#333", width=0.7, shape="spline", smoothing=0.5), hoverinfo="skip"))
br = new_axes((597.5, 62.3, 638, 282.7), [0, 1], [-0.034, 0.737])
fig.add_trace(go.Scatter(x=B_RIGHT_D, y=B_RIGHT_Y, xaxis=br[0], yaxis=br[1], mode="lines", fill="toself", fillcolor=GOLD, line=dict(color="#333", width=0.7, shape="spline", smoothing=0.5), hoverinfo="skip"))
note(418, 79, "<i>R</i> = 0.19, <i>p</i> = 0.0018", 8, "#333")
note(345.5, 172, "RNAss", 7.5, "#222", angle=-90)
note(481.5, 299, "Risk score", 8.5, "#333")

# ---------- C ----------
c = new_axes((683.3, 62.7, 969, 271.7), [-0.82, 16.72], [-0.049, 1.05],
             dict(**{**CL, "tickfont": dict(size=8.5, color="#222", family=FONT)}, tickvals=list(range(17))),
             dict(**{**CL, "tickfont": dict(size=8.5, color="#222", family=FONT)}, tickvals=[0, .25, .5, .75, 1], ticktext=["0.00", "0.25", "0.50", "0.75", "1.00"]))
fig.add_trace(go.Scatter(x=C_HIGH_T, y=C_HIGH_S, xaxis=c[0], yaxis=c[1], mode="lines", line=dict(color=GOLD, width=1.5, shape="hv"), hoverinfo="skip"))
fig.add_trace(go.Scatter(x=C_LOW_T, y=C_LOW_S, xaxis=c[0], yaxis=c[1], mode="lines", line=dict(color=TEAL, width=1.5, shape="hv"), hoverinfo="skip"))
fig.add_trace(go.Scatter(x=C_HIGH_CENS_T, y=C_HIGH_CENS_S, xaxis=c[0], yaxis=c[1], mode="markers", marker=dict(symbol="cross-thin", size=6, line=dict(color=GOLD, width=1)), hoverinfo="skip"))
fig.add_trace(go.Scatter(x=C_LOW_CENS_T, y=C_LOW_CENS_S, xaxis=c[0], yaxis=c[1], mode="markers", marker=dict(symbol="cross-thin", size=6, line=dict(color=TEAL, width=1)), hoverinfo="skip"))
for dx, dy in [([0, 5.55], [.5, .5]), ([2.41, 2.41], [.5, 0]), ([5.55, 5.55], [.5, 0])]:
    fig.add_trace(go.Scatter(x=dx, y=dy, xaxis=c[0], yaxis=c[1], mode="lines", line=dict(color="#111", width=1, dash="4px,3px"), hoverinfo="skip"))
note(725, 225, "p=0.027", 12.5, "#111")
note(653, 167, "Survival probability", 10.5, "#222", angle=-90)
note(826.7, 291.5, "Time(years)", 10.5, "#222")
note(792.7, 42.5, "RNAss", 7, "#333")
seg(810, 42.5, 821, 42.5, GOLD, 1.3); seg(815.5, 40.5, 815.5, 44.5, GOLD, 1)
note(832.7, 42.5, "high", 7, "#333")
seg(845.7, 42.5, 856.7, 42.5, TEAL, 1.3); seg(851.2, 40.5, 851.2, 44.5, TEAL, 1)
note(866, 42.5, "low", 7, "#333")

# ---------- D ----------
D_RECT = (43.3, 345, 281.6, 614.3); D_XR = [0.4, 2.605]; D_YR = [-0.334, 8.4]
d = new_axes(D_RECT, D_XR, D_YR, dict(**CL, tickvals=[1, 2], ticktext=["low", "high"]), dict(**CL, tickvals=[0, 2, 4, 6, 8]))
violin(d, 1, D_LOW_Y, D_LOW_W, TEAL_A, lw=1.8, lc="#111")
violin(d, 2, D_HIGH_Y, D_HIGH_W, GOLD_A, lw=1.8, lc="#111")
d2 = new_axes(D_RECT, D_XR, D_YR)
box(d2, 1, D_BOX["low"], "rgba(0,160,135,0.7)", 0.76)
box(d2, 2, D_BOX["high"], "rgba(219,192,94,0.7)", 0.76)
jitter(d2, D_LOW_PTS, TEAL)
jitter(d2, D_HIGH_PTS, GOLD)
note(162, 358, "P = 0.04", 15.5, "#111")
note(21, 479, "Tumor Muntation Burden", 11, "#222", angle=-90)

# ---------- E ----------
e = new_axes((312.6, 348.7, 625, 616), [-0.82, 19.87], [-0.294, 7.55],
             dict(**GT, **BW, tickvals=[0, 5, 10, 15], minor=dict(dtick=2.5, showgrid=True, gridcolor="#f3f3f3")),
             dict(**GT, **BW, tickvals=[0, 2, 4, 6], minor=dict(dtick=1, showgrid=True, gridcolor="#f3f3f3")))
fig.add_trace(go.Scatter(x=E_TREND_X + E_TREND_X[::-1], y=E_HI + E_LO[::-1], xaxis=e[0], yaxis=e[1], mode="lines", fill="toself", fillcolor="rgba(153,153,153,0.42)", line=dict(width=0), hoverinfo="skip"))
fig.add_trace(go.Scatter(x=E_HIGH_X, y=E_HIGH_Y, xaxis=e[0], yaxis=e[1], mode="markers", marker=dict(size=4.6, color=GOLD), hoverinfo="skip"))
fig.add_trace(go.Scatter(x=E_LOW_X, y=E_LOW_Y, xaxis=e[0], yaxis=e[1], mode="markers", marker=dict(size=4.6, color=TEAL), hoverinfo="skip"))
fig.add_trace(go.Scatter(x=E_TREND_X, y=E_TREND_Y, xaxis=e[0], yaxis=e[1], mode="lines", line=dict(color="#4263B8", width=1.8), hoverinfo="skip"))
note(578, 365, "risk", 9, "#333")
dot(578, 382.7, 5, TEAL); note(597.5, 382.7, "low", 8, "#333")
dot(578, 399, 5, GOLD); note(599, 399, "high", 8, "#333")
note(575.5, 420, "<i>R</i> = 0.15, <i>p</i> = 0.021", 9.5, "#333")
note(294.7, 482.7, "Tumor Burden Mutation", 10, "#222", angle=-90)
note(468.6, 635, "Risk score", 10, "#333")

# ---------- oncoplots ----------
def parse_runs(run, n):
    row = []
    for tok in run.split():
        row += [MUT_CODE.index(tok[0])] * int(tok[1:])
    return (row + [0] * n)[:n]

SCALE = []
for i, k_ in enumerate(MUT_CODE):
    SCALE += [[i / 7, MUT_COLORS[k_]], [(i + 1) / 7, MUT_COLORS[k_]]]

def oncoplot(n, genes, pct, runs, order, tmb_g, tmb_r, heat, tmb, tmb_max, side, side_max, risk, risk_color):
    hx0, hy0, hx1, hy1 = heat
    colw = (hx1 - hx0) / n
    Z = [parse_runs(r, n) for r in runs]
    ax = new_axes(heat, [-0.5, n - 0.5], [19.5, -0.5], None,
                  dict(showticklabels=True, tickvals=list(range(20)), ticktext=[f"<i>{g}</i>" for g in genes],
                       tickfont=dict(size=8.3, color="#222", family=FONT), ticks="", ticklen=0, ticklabelstandoff=2))
    fig.add_trace(go.Heatmap(z=[[v + 0.5 for v in row] for row in Z], x=list(range(n)), y=list(range(20)), xaxis=ax[0], yaxis=ax[1],
                             colorscale=SCALE, zmin=0, zmax=7, showscale=False, xgap=0.15, ygap=1, hoverinfo="skip"))
    for g, p in enumerate(pct):
        note(hx1 + 1.5, hy0 + (g + 0.5) * (hy1 - hy0) / 20, p, 8.2, "#222", anchor="left")
    t = new_axes((hx0 - 3, tmb[0], hx1, tmb[1]), [-0.5 - 3 / colw, n - 0.5], [0, tmb_max], None,
                 dict(showline=True, linecolor="#555", linewidth=1, ticks="outside", ticklen=3, tickcolor="#555", showticklabels=True,
                      tickvals=[0, tmb_max], ticktext=["0", str(tmb_max)], tickfont=dict(size=5.5, color="#333", family=FONT)))
    xs = list(range(len(tmb_g)))
    fig.add_trace(go.Bar(x=xs, y=tmb_g, xaxis=t[0], yaxis=t[1], marker=dict(color=MUT_COLORS["M"], line=dict(width=0)), width=0.85, hoverinfo="skip"))
    fig.add_trace(go.Bar(x=xs, y=tmb_r, xaxis=t[0], yaxis=t[1], marker=dict(color=MUT_COLORS["N"], line=dict(width=0)), width=0.85, hoverinfo="skip"))
    s = new_axes((side, hy0, side + side_max[1], hy1), [0, side_max[0]], [19.5, -0.5])
    for k in order:
        code = MUT_CODE.index(k)
        fig.add_trace(go.Bar(y=list(range(20)), x=[row.count(code) for row in Z], orientation="h", xaxis=s[0], yaxis=s[1],
                             marker=dict(color=MUT_COLORS[k], line=dict(width=0)), width=0.88, hoverinfo="skip"))
    r = new_axes((hx0, risk[0], hx1, risk[1]), [-0.5, n - 0.5], [-0.5, 0.5])
    fig.add_trace(go.Heatmap(z=[[1] * n], xaxis=r[0], yaxis=r[1], colorscale=[[0, risk_color], [1, risk_color]], showscale=False, hoverinfo="skip"))

oncoplot(78, F_GENES, F_PCT, F_RUNS, F_ORDER, F_TMB_G, F_TMB_R, (670, 402, 893, 602.7), (351.3, 398), 503, 916.7, (34.4, 57.3), (606, 623), TEAL)
note(809.3, 338.7, "Altered in 78 (67.83%) of 115 samples.", 8.8, "#111", bold=True)
note(650.7, 375, "TMB", 5, "#333", angle=-90)
note(896.7, 615, "Risk", 8, "#222", anchor="left")
seg(916.7, 399.3, 974, 399.3, "#555", 0.8); seg(916.7, 396.5, 916.7, 399.3, "#555", 0.8)
note(916.7, 388, "0", 5.5, "#333"); note(948, 394.7, "No. of samples", 5, "#333")
for (sx, sy, tx, key) in [(642.3, 632.7, 649, "M"), (642.3, 642.3, 649, "F"), (642.3, 651.7, 649, "N"), (730, 632.7, 736.7, "I"), (730, 642.3, 736.7, "D"), (730, 651.7, 736.7, "H")]:
    rect(sx - 1.8, sy - 1.8, sx + 1.8, sy + 1.8, MUT_COLORS[key]); note(tx, sy, MUT_NAMES[key], 8, "#333", anchor="left")
note(834.3, 632.7, "Risk", 8, "#333", anchor="center")
rect(832, 643, 836, 647, GOLD); note(841, 645, "high", 8, "#333", anchor="left")
rect(832, 652, 836, 656, TEAL); note(841, 654, "low", 8, "#333", anchor="left")

oncoplot(83, G_GENES, G_PCT, G_RUNS, G_ORDER, G_TMB_G, G_TMB_R, (69, 735.7, 292, 936), (685, 731.3), 1551, 315.7, (41, 63.3), (940, 956.7), GOLD)
note(208.3, 671.7, "Altered in 83 (72.17%) of 115 samples.", 8.8, "#111", bold=True)
note(50, 708.3, "TMB", 5, "#333", angle=-90)
note(295, 948, "Risk", 8, "#222", anchor="left")
seg(315.7, 733.3, 379, 733.3, "#555", 0.8); seg(315.7, 730.5, 315.7, 733.3, "#555", 0.8); seg(379, 730.5, 379, 733.3, "#555", 0.8)
note(315.7, 721, "0", 5.5, "#333"); note(379, 721, "41", 5.5, "#333"); note(346.7, 728, "No. of samples", 5, "#333")
for (sx, sy, tx, key) in [(40.7, 966, 47.7, "M"), (40.7, 975.7, 47.7, "I"), (40.7, 985.3, 47.7, "N"), (128.3, 966, 135.3, "F"), (128.3, 975.7, 135.3, "D"), (128.3, 985.3, 135.3, "H")]:
    rect(sx - 1.8, sy - 1.8, sx + 1.8, sy + 1.8, MUT_COLORS[key]); note(tx, sy, MUT_NAMES[key], 8, "#333", anchor="left")
note(233.3, 966, "Risk", 8, "#333")
rect(230.3, 976, 234.3, 980, GOLD); note(239.7, 978, "high", 8, "#333", anchor="left")
rect(230.3, 985.7, 234.3, 989.7, TEAL); note(239.7, 987.7, "low", 8, "#333", anchor="left")

# ---------- H ----------
TICK_COLORS = ["#3AA99A"] * 5 + ["#C9185B"] * 10
hx = list(range(15))
h = new_axes((500.4, 751.7, 940, 931.3), [-0.739, 14.8], [0, 20],
             dict(showticklabels=True, tickvals=hx, ticktext=[f'<span style="color:{c_}">{g}</span>' for g, c_ in zip(H_GENES, TICK_COLORS)],
                  tickangle=-90, tickfont=dict(size=9.5, family=FONT), ticks=""),
             dict(showline=True, linecolor="#555", linewidth=1.2, ticks="outside", ticklen=8, tickcolor="#555", showticklabels=True,
                  tickvals=[0, 5, 10, 15, 20], tickfont=dict(size=20, color="#111", family=FONT, weight="bold")))
fig.add_trace(go.Bar(x=hx, y=H_TOP, xaxis=h[0], yaxis=h[1], width=0.32, marker=dict(color="#CCCCCC", line=dict(width=0)), hoverinfo="skip"))
fig.add_trace(go.Scatter(x=hx, y=H_GAIN, xaxis=h[0], yaxis=h[1], mode="markers", marker=dict(size=13.5, color=GOLD), cliponaxis=False, hoverinfo="skip"))
fig.add_trace(go.Scatter(x=hx, y=H_LOSS, xaxis=h[0], yaxis=h[1], mode="markers", marker=dict(size=13.5, color=TEAL), cliponaxis=False, hoverinfo="skip"))
note(435, 832.7, "CNV.frequency(%)", 20, "#111", angle=-90)
dot(873, 727, 11, GOLD); note(882.5, 728, "GAIN", 13, "#222", anchor="left")
dot(873, 743, 11, TEAL); note(882.5, 743, "LOSS", 13, "#222", anchor="left")

# ---------- I ----------
BAND_COL = {"w": "#FFFFFF", "l": "#D2D2D2", "g": "#8A8A8A", "k": "#000000", "r": "#E8262A", "b": "#3F7FC0"}
CX, CY, CR = 185.5, 1178, 131
th, wd, co = [], [], []
for i, pat in enumerate(CHROM_BANDS):
    a0, a1 = CHROM_EDGES[i], CHROM_EDGES[i + 1] - 0.7
    step = (a1 - a0) / len(pat)
    for j, ch in enumerate(pat):
        th.append(a0 + (j + 0.5) * step); wd.append(step); co.append(BAND_COL[ch])
cmid = [(CHROM_EDGES[i] + CHROM_EDGES[i + 1] - 0.7) / 2 for i in range(24)]
cwid = [CHROM_EDGES[i + 1] - 0.7 - CHROM_EDGES[i] for i in range(24)]
pol = dict(subplot="polar", hoverinfo="skip")
fig.add_trace(go.Barpolar(theta=[(CHROM_EDGES[i] + CHROM_EDGES[i + 1]) / 2 for i in range(24)], width=[CHROM_EDGES[i + 1] - CHROM_EDGES[i] - .3 for i in range(24)],
                          r=[0.8] * 24, base=[130.2] * 24, marker=dict(color=CHROM_ARC_COLORS, line=dict(width=0)), **pol))
fig.add_trace(go.Barpolar(theta=cmid, width=cwid, r=[11.4] * 24, base=[115] * 24, marker=dict(color="#DDDDDD", line=dict(color="#555", width=0.7)), **pol))
fig.add_trace(go.Barpolar(theta=th, width=wd, r=[11] * len(th), base=[115.2] * len(th), marker=dict(color=co, line=dict(width=0)), **pol))
fig.add_trace(go.Barpolar(theta=cmid, width=cwid, r=[9] * 24, base=[104] * 24, marker=dict(color="#EBD9B4", line=dict(color="#777", width=0.7)), **pol))
for rr in [105.8, 107.6, 109.4, 111.2]:
    fig.add_trace(go.Barpolar(theta=cmid, width=cwid, r=[0.35] * 24, base=[rr] * 24, marker=dict(color="#D3C19A", line=dict(width=0)), **pol))
fig.add_trace(go.Scatterpolar(theta=CIRC_THETA, r=CIRC_R, mode="markers", marker=dict(size=3.6, color=CIRC_COL), **pol))
layout["polar"] = dict(domain=dict(x=[(CX - CR) / W, (CX + CR) / W], y=[1 - (CY + CR) / H, 1 - (CY - CR) / H]),
                       radialaxis=dict(visible=False, range=[0, CR]), angularaxis=dict(visible=False, rotation=90, direction="clockwise"),
                       bgcolor="rgba(0,0,0,0)", barmode="overlay", bargap=0, hole=0)
CHROM_LABEL_ANGLE = [15.1,42.6,66.7,88.3,108.7,128.5,146.7,163.9,185.6,200.8,216.2,231.7,245.8,258,270,280.8,291,300.4,308.6,316.2,323.2,329.6,341.7,354]
for lab, ang in zip(CHROMS, CHROM_LABEL_ANGLE):
    rad = math.radians(ang)
    rot = ang - 90 if ang < 180 else ang - 270
    note(CX + 141 * math.sin(rad), CY - 141 * math.cos(rad), lab, 9.5, "#222", angle=rot)
CIRC_LABELS = [("TNFAIP8L2",205.7,1107.3,-71),("MAGED1",159.3,1104.3,68),("DBNDD2",135,1119,47),("FILIP1L",259,1144.3,-26),("NCAPG",263.3,1163.7,-10),("PARM1",265.3,1172,-2),("SCRG1",265,1187,4),("AHNAK2",108.3,1186.7,-3),("CYSTM1",256.7,1207.3,18),("ADRB2",256,1213.3,20),("SQSTM1",253.3,1216.7,17),("SRPK1",252.3,1224.3,20),("GPC2",226.7,1254,60),("SULF1",206,1256.7,78),("OLFM1",170.7,1256.7,-85)]
for nm, lx, ly, ang in CIRC_LABELS:
    note(lx, ly, nm, 7.3, "#333", angle=ang)
CIRC_LINKS = [(214,1080.7,210.7,1090),(150.7,1081,154.3,1089.3),(118,1099.3,125,1107.3),(281,1136,271.7,1140),(287.3,1160,277.3,1161.7),(287.3,1171.3,278.3,1171),(287.3,1190,277.7,1189),(80,1190.7,93.3,1188.3),(279.3,1220,270,1210.7),(276.7,1223.3,268.3,1216.7),(276.7,1226.7,266.7,1219),(271.7,1236,263.3,1230.7),(235,1268.3,230,1261.7),(210.7,1278.3,208.3,1269.3),(166,1281.7,168.3,1270)]
for l in CIRC_LINKS:
    seg(*l, color="#444", lw=0.6)

# ---------- J, K ----------
J_RECT = (404.8, 1014, 665, 1309.3); J_XR = [0.391, 2.604]; JK_YR = [-0.222, 4.713]
j = new_axes(J_RECT, J_XR, JK_YR, dict(**CL, tickvals=[1, 2], ticktext=["low", "high"]), dict(**CL, tickvals=[0, 1, 2, 3, 4]))
violin(j, 1, J_LOW_Y, J_LOW_W, TEAL_A, lw=1.8, lc="#111")
violin(j, 2, J_HIGH_Y, J_HIGH_W, GOLD_A, lw=1.8, lc="#111")
j2 = new_axes(J_RECT, J_XR, JK_YR)
box(j2, 1, J_BOX["low"], "rgba(0,160,135,0.7)", 0.76)
box(j2, 2, J_BOX["high"], "rgba(219,192,94,0.7)", 0.76)
jitter(j2, J_LOW_PTS, TEAL); jitter(j2, J_HIGH_PTS, GOLD)
note(534.4, 1027, "P < 0.001", 16, "#111")
note(378.8, 1161.7, "log10(Amplification)", 11, "#222", angle=-90)
K_RECT = (708.8, 1014, 968.8, 1309.3); K_XR = [0.402, 2.598]
k = new_axes(K_RECT, K_XR, JK_YR, dict(**CL, tickvals=[1, 2], ticktext=["low", "high"]), dict(**CL, tickvals=[0, 1, 2, 3, 4]))
violin(k, 1, K_LOW_Y, K_LOW_W, TEAL_A, lw=1.8, lc="#111")
violin(k, 2, K_HIGH_Y, K_HIGH_W, GOLD_A, lw=1.8, lc="#111")
k2 = new_axes(K_RECT, K_XR, JK_YR)
box(k2, 1, K_BOX["low"], "rgba(0,160,135,0.7)", 0.76)
box(k2, 2, K_BOX["high"], "rgba(219,192,94,0.7)", 0.76)
jitter(k2, K_LOW_PTS, TEAL); jitter(k2, K_HIGH_PTS, GOLD)
note(838, 1027, "P = 0.091", 16, "#111")
note(682.8, 1161.7, "log10(Deletion)", 11, "#222", angle=-90)

# ---------- panel letters ----------
for lab, lx, ly in [("A", 20, 20), ("B", 343, 20), ("C", 651, 20), ("D", 20, 320), ("E", 295, 320), ("F", 637, 320), ("G", 21, 652), ("H", 431, 713), ("I", 18, 1014), ("J", 375, 1001), ("K", 677, 1001)]:
    note(lx, ly, lab, 17, "#000", bold=True)

fig.update_layout(width=W, height=H, margin=dict(l=0, r=0, t=0, b=0, autoexpand=False), paper_bgcolor="white", plot_bgcolor="rgba(0,0,0,0)",
                  showlegend=False, barmode="stack", font=dict(family=FONT), annotations=annotations, shapes=shapes, **layout)
fig.write_html("out.html", config={"displayModeBar": False}, post_script="document.body.style.margin='0';document.documentElement.style.overflow='hidden';")
